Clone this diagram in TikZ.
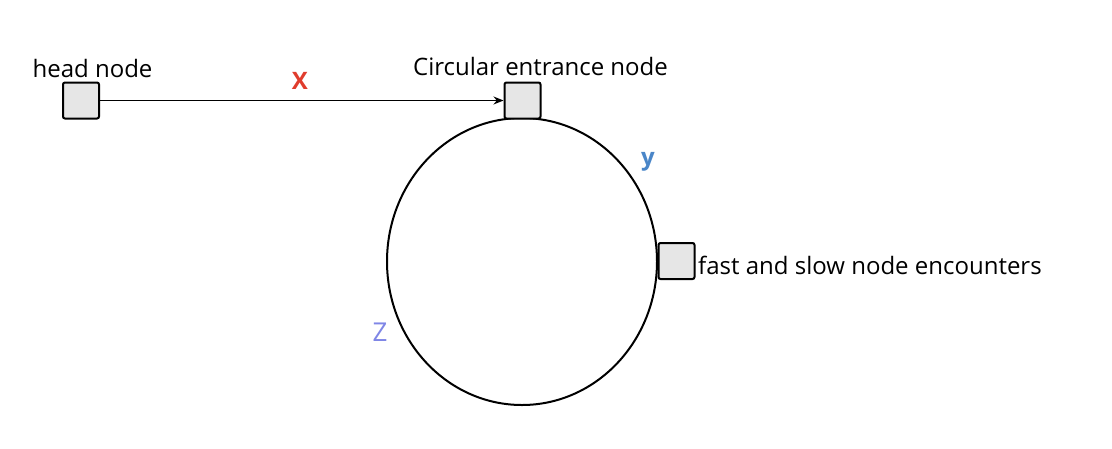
\documentclass[tikz,border=0pt]{standalone}
\usepackage{fontspec}
\setmainfont{Open Sans}
\usetikzlibrary{shapes.geometric, arrows.meta, positioning}
\definecolor{NodeGray}{HTML}{E6E6E6}
\definecolor{LabelRed}{HTML}{E03C2D}
\definecolor{LabelBlue}{HTML}{4A86C8}
\definecolor{LabelLilac}{HTML}{7F86E6}
\tikzset{
    % Node styles
    listnode/.style={
        rectangle,
        rounded corners=2pt,
        draw=black,
        fill=NodeGray,
        line width=2pt,
        minimum width=36pt,
        minimum height=36pt,
        inner sep=0pt
    },
    nodelabel/.style={
        font=\fontsize{24}{26}\selectfont,
        inner sep=0pt
    },
    % Arrow styles
    myarrow/.style={
        -{Stealth[length=10pt,width=8pt]},
        line width=1.6pt,
        black
    }
}
\begin{document}
\begin{tikzpicture}[x=1pt,y=-1pt]
    \useasboundingbox (0,0) rectangle (1112,448);

    % Ring
    \node[draw, line width=2pt, ellipse, minimum width=270pt, minimum height=287pt, inner sep=0pt] (ring) at (522,261.5) {};

    % List nodes
    \node[listnode] (head) at (81,100.5) {};
    \node[listnode] (entry) at (522.5,100.5) {};
    \node[listnode] (meet) at (676.5,261) {};

    % Labels
    \node[nodelabel] (headlabel) at (92.5,68) {head node};
    \node[nodelabel] (entrylabel) at (540.5,66) {Circular entrance node};
    \node[nodelabel, anchor=west] (meetlabel) at (698,265) {fast and slow node encounters};

    % Arrow
    \draw[myarrow] (head.east) -- (entry.west);

    % Distances
    \node[font=\fontsize{24}{26}\selectfont\bfseries, LabelRed] (xlabel) at (300,81) {X};
    \node[font=\fontsize{24}{26}\selectfont\bfseries, LabelBlue] (ylabel) at (648,162) {y};
    \node[font=\fontsize{26}{28}\selectfont, LabelLilac] (zlabel) at (380,332) {Z};
\end{tikzpicture}
\end{document}
